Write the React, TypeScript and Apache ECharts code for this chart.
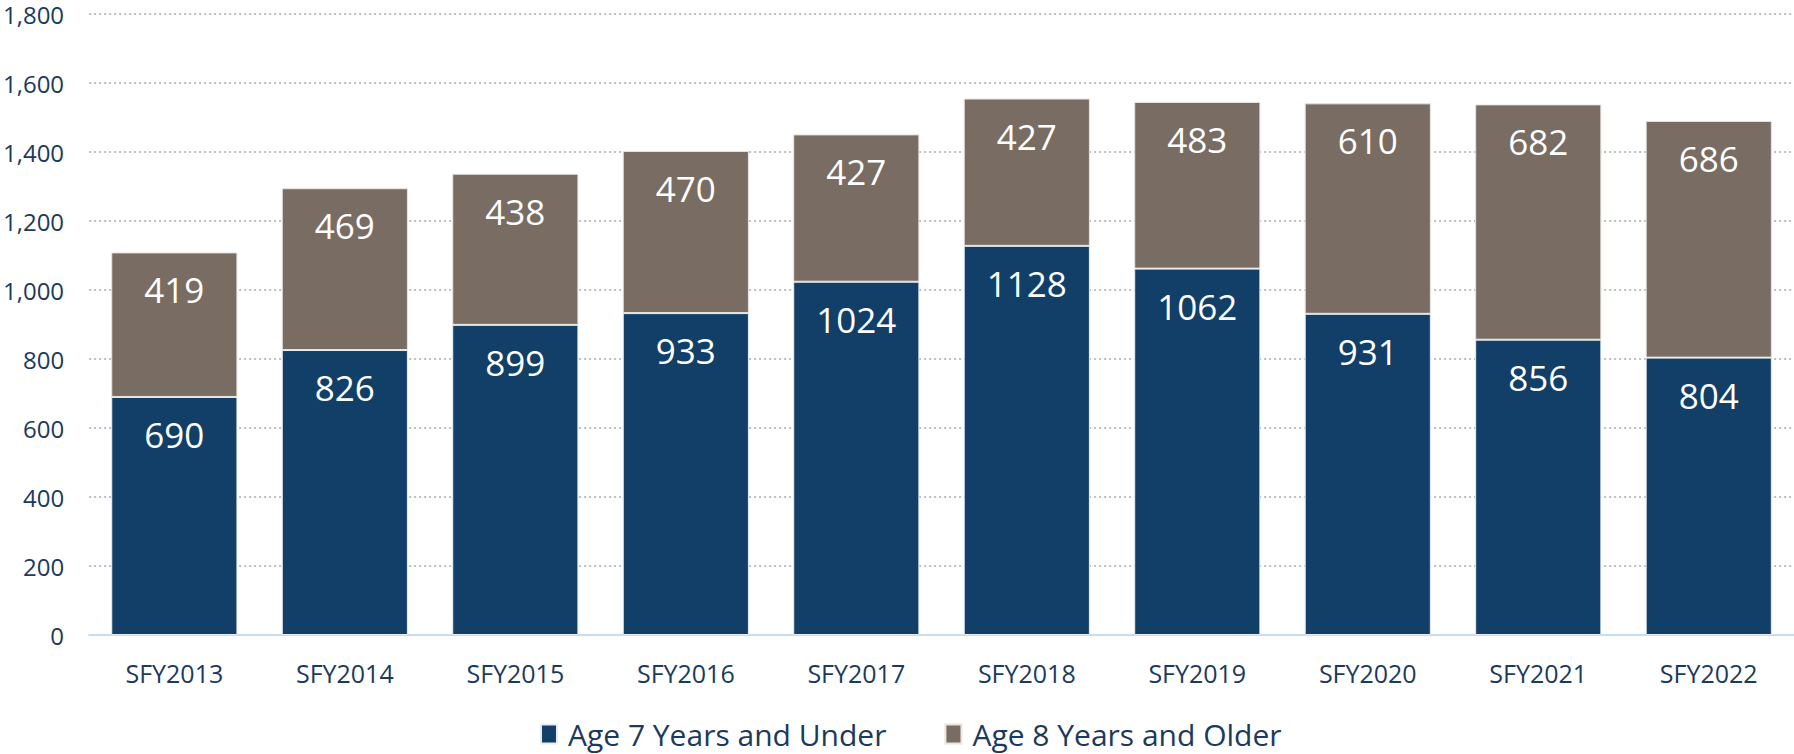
import React, { useEffect, useRef } from "react";
import * as echarts from "echarts";

const categories = ["SFY2013", "SFY2014", "SFY2015", "SFY2016", "SFY2017", "SFY2018", "SFY2019", "SFY2020", "SFY2021", "SFY2022"];
const under7 = [690, 826, 899, 933, 1024, 1128, 1062, 931, 856, 804];
const over8 = [419, 469, 438, 470, 427, 427, 483, 610, 682, 686];
const seriesNames = ["Age 7 Years and Under", "Age 8 Years and Older"];

const FONT = "'Open Sans', 'Noto Sans', sans-serif";

export default function App() {
  const ref = useRef<HTMLDivElement>(null);
  useEffect(() => {
    document.body.style.margin = "0";
    const chart = echarts.init(ref.current!, null, { renderer: "svg" });
    const label = {
      show: true,
      position: "insideTop",
      distance: 20,
      color: "#ffffff",
      fontSize: 35,
      fontFamily: FONT,
    };
    chart.setOption({
      animation: false,
      textStyle: { fontFamily: FONT },
      grid: { left: 88, right: 0, top: 14, bottom: 119, containLabel: false },
      legend: {
        left: 535,
        top: 714,
        itemWidth: 16,
        itemHeight: 19,
        itemGap: 58,
        icon: "rect",
        textStyle: { fontSize: 30, color: "#1B3A5C", fontFamily: FONT, padding: [0, 0, 0, 6] },
        data: seriesNames,
      },
      xAxis: {
        type: "category",
        data: categories,
        axisTick: { show: false },
        axisLine: { lineStyle: { color: "#C9DDF0", width: 2 } },
        axisLabel: { color: "#1B3A5C", fontSize: 25, margin: 25, fontFamily: FONT },
      },
      yAxis: {
        type: "value",
        min: 0,
        max: 1800,
        interval: 200,
        axisLine: { show: false },
        axisTick: { show: false },
        axisLabel: {
          color: "#1B3A5C",
          fontSize: 24,
          margin: 25,
          fontFamily: FONT,
          formatter: (v: number) => v.toLocaleString("en-US"),
        },
        splitLine: { lineStyle: { color: "#BFBFBF", type: [2, 3], width: 2 } },
      },
      series: [
        {
          name: seriesNames[0],
          type: "bar",
          stack: "total",
          data: under7,
          barWidth: "74%",
          itemStyle: { color: "#123F67", borderColor: "#E8ECF0", borderWidth: 1 },
          label,
        },
        {
          name: seriesNames[1],
          type: "bar",
          stack: "total",
          data: over8,
          barWidth: "74%",
          itemStyle: { color: "#786C63", borderColor: "#E8E4E0", borderWidth: 1 },
          label,
        },
      ],
    });
    return () => chart.dispose();
  }, []);
  return <div ref={ref} style={{ width: 1794, height: 754 }} />;
}
